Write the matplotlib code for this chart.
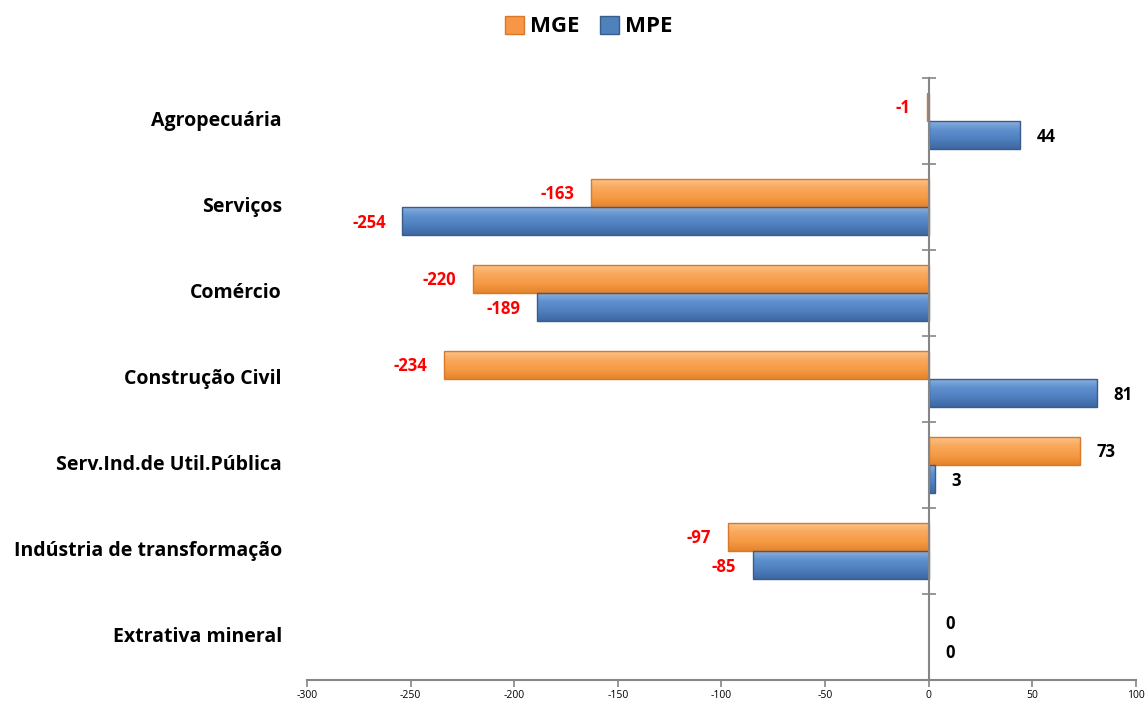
import numpy as np
import matplotlib
matplotlib.use("Agg")
import matplotlib.pyplot as plt
from matplotlib.colors import LinearSegmentedColormap
from matplotlib.patches import Patch
import matplotlib.transforms as mtransforms

plt.rcParams['font.family'] = ['Open Sans', 'DejaVu Sans']

categories = ["Extrativa mineral", "Indústria de transformação", "Serv.Ind.de Util.Pública",
              "Construção Civil", "Comércio", "Serviços", "Agropecuária"]
mge = [0, -97, 73, -234, -220, -163, -1]
mpe = [0, -85, 3, 81, -189, -254, 44]
xticks = [-300, -250, -200, -150, -100, -50, 0, 50, 100]

fig = plt.figure(figsize=(11.48, 7.02), dpi=100)
ax = fig.add_axes([0.2674, 0.0313, 0.7221, 0.8576])

y = np.arange(len(categories))
h = 0.33
orange_cmap = LinearSegmentedColormap.from_list("o", ["#E5842C", "#F69A45", "#F9A95C", "#FBC48F"])
blue_cmap = LinearSegmentedColormap.from_list("b", ["#3D67A0", "#4F7FBE", "#5F90CE", "#8DB2E0"])

series = [(mge, y + h / 2, "#F79646", "#D9782A", orange_cmap, "MGE"),
          (mpe, y - h / 2, "#4F81BD", "#385D8A", blue_cmap, "MPE")]

grad = np.linspace(0, 1, 64).reshape(-1, 1)
for vals, pos, col, edge, cmap, name in series:
    bars = ax.barh(pos, vals, height=h, color=col, zorder=2, linewidth=0)
    edges = ax.barh(pos, vals, height=h, fill=False, edgecolor=edge, linewidth=1.0, zorder=3)
    for b, e in zip(bars, edges):
        x0, y0, w, hh = b.get_x(), b.get_y(), b.get_width(), b.get_height()
        if w == 0:
            e.set_visible(False)
            continue
        im = ax.imshow(grad, extent=[x0, x0 + w, y0, y0 + hh], aspect='auto', cmap=cmap,
                       origin='lower', interpolation='bicubic', zorder=2.5)
        im.set_clip_path(b)
    for v, p in zip(vals, pos):
        if v < 0:
            ax.annotate(str(v), (v, p), xytext=(-12, -1), textcoords='offset points',
                        ha='right', va='center', color='#FF0000', fontsize=12, fontweight='bold')
        else:
            ax.annotate(str(v), (v, p), xytext=(12, -1), textcoords='offset points',
                        ha='left', va='center', color='black', fontsize=12, fontweight='bold')

ax.set_xlim(-300, 100)
ax.set_ylim(-0.5, len(categories) - 0.5)
ax.set_xticks(xticks)
ax.set_xticklabels([str(t) for t in xticks], fontsize=7.5)
ax.set_yticks(np.arange(len(categories) + 1) - 0.5)
ax.set_yticklabels([])

for s in ['top', 'right']:
    ax.spines[s].set_visible(False)
ax.spines['left'].set_position(('data', 0))
ax.spines['left'].set_color('#868686')
ax.spines['left'].set_linewidth(1.5)
ax.spines['left'].set_zorder(4)
ax.spines['bottom'].set_color('#868686')
ax.spines['bottom'].set_linewidth(1.5)
ax.tick_params(axis='y', direction='inout', length=10, width=1.2, color='#868686')
ax.tick_params(axis='x', direction='out', length=5, width=1.2, color='#868686', pad=2)

trans = mtransforms.blended_transform_factory(ax.transAxes, ax.transData)
for c, p in zip(categories, y):
    ax.text(-0.0303, p, c, transform=trans, ha='right', va='center',
            fontsize=14, fontweight='bold')

handles = [Patch(facecolor="#F79646", edgecolor="#D9782A", label="MGE"),
           Patch(facecolor="#4F81BD", edgecolor="#385D8A", label="MPE")]
leg = fig.legend(handles=handles, loc='center', bbox_to_anchor=(0.513, 0.962), ncol=2,
                 frameon=False, handlelength=0.85, handleheight=0.85, handletextpad=0.3,
                 columnspacing=0.9, prop={'size': 16, 'weight': 'bold'})

fig.savefig("out.png", dpi=100)
